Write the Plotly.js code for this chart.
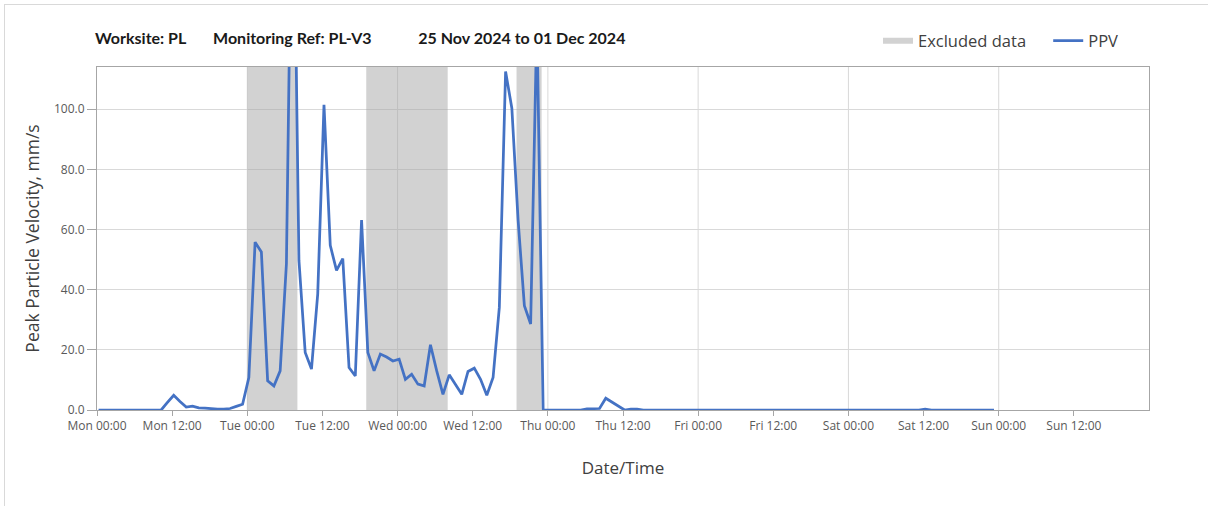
<!DOCTYPE html>
<html>
<head>
<meta charset="utf-8">
<script src="https://cdn.plot.ly/plotly-3.0.1.min.js"></script>
<style>
  html, body { margin: 0; padding: 0; background: #ffffff; overflow: hidden; }
  #frame { position: absolute; left: 4px; top: 4px; width: 1400px; height: 700px;
           border-top: 1px solid #d9d9d9; border-left: 1px solid #d9d9d9; pointer-events: none; z-index: 5; }
  #chart { position: absolute; left: 0; top: 0; width: 1208px; height: 506px; }
</style>
</head>
<body>
<div id="chart"></div>
<div id="frame"></div>
<script>
// ---- data (hourly PPV readings, mm/s) ----
const seriesStart = '2024-11-25T00:15:00';   // first reading
const stepHours = 1;
const ppvMon = [0,0,0,0,0,0,0,0,0,0,0,2.5, 4.9,2.8,1.0,1.3,0.7,0.6,0.4,0.3,0.3,0.5,1.2,1.9];
const ppvTue = [10.8,55.8,52.5,9.7,8.0,13.0,48.6,200,49.7,19.1,13.6,38.6,
                101.4,54.7,46.4,50.3,14.1,11.3,63.1,19.1,13.0,18.6,17.6,16.3];
const ppvWed = [16.9,10.2,11.9,8.6,8.0,21.7,13.0,5.2,11.7,8.5,5.2,12.8,
                13.9,10.2,4.9,10.8,34.1,112.5,100.3,63.0,34.7,28.6,130,0];
const ppvThu = [0,0,0,0,0,0,0.4,0.4,0.5,3.9,2.6,1.3, 0,0.3,0.3,0,0,0,0,0,0,0,0,0];
const ppvFri = [0,0,0,0,0,0,0,0,0,0,0,0, 0,0,0,0,0,0,0,0,0,0,0,0];
const ppvSat = [0,0,0,0,0,0,0,0,0,0,0,0, 0.3,0,0,0,0,0,0,0,0,0,0,0];

// excluded-data periods
const excludedStart = ['2024-11-26T00:00:00','2024-11-26T19:00:00','2024-11-27T19:00:00'];
const excludedEnd   = ['2024-11-26T08:00:00','2024-11-27T08:00:00','2024-11-27T23:00:00'];

// axes
const xRange = ['2024-11-25T00:00:00','2024-12-02T00:00:00'];
const yMax = 114;
const yTicks = [0,20,40,60,80,100];
const tickTimes = ['2024-11-25T00:00:00','2024-11-25T12:00:00','2024-11-26T00:00:00','2024-11-26T12:00:00',
                   '2024-11-27T00:00:00','2024-11-27T12:00:00','2024-11-28T00:00:00','2024-11-28T12:00:00',
                   '2024-11-29T00:00:00','2024-11-29T12:00:00','2024-11-30T00:00:00','2024-11-30T12:00:00',
                   '2024-12-01T00:00:00','2024-12-01T12:00:00'];
const tickLabels = ['Mon 00:00','Mon 12:00','Tue 00:00','Tue 12:00','Wed 00:00','Wed 12:00','Thu 00:00',
                    'Thu 12:00','Fri 00:00','Fri 12:00','Sat 00:00','Sat 12:00','Sun 00:00','Sun 12:00'];
const dayGridTimes = ['2024-11-26T00:00:00','2024-11-27T00:00:00','2024-11-28T00:00:00',
                      '2024-11-29T00:00:00','2024-11-30T00:00:00','2024-12-01T00:00:00'];

// ---- build traces ----
const ppv = [].concat(ppvMon, ppvTue, ppvWed, ppvThu, ppvFri, ppvSat);
function fmt(d){
  const p = n => String(n).padStart(2,'0');
  return d.getFullYear()+'-'+p(d.getMonth()+1)+'-'+p(d.getDate())+' '+p(d.getHours())+':'+p(d.getMinutes())+':00';
}
const t0 = new Date(seriesStart);
const times = ppv.map((_, i) => fmt(new Date(t0.getTime() + i*stepHours*3600000)));

const exX = [], exY = [];
excludedStart.forEach((s, i) => {
  const e = excludedEnd[i];
  exX.push(s, s, e, e, s, null);
  exY.push(0, yMax, yMax, 0, 0, null);
});

const NB = '\u00a0';
const traces = [
  { type:'scatter', mode:'none', name:'Excluded data' + NB.repeat(4), x: exX, y: exY,
    fill:'toself', fillcolor:'rgba(166,166,166,0.5)', hoverinfo:'skip' },
  { type:'scatter', mode:'lines', name:'PPV', x: times, y: ppv,
    line:{ color:'#4472C4', width:2.75 } }
];

const shapes = dayGridTimes.map(t => ({
  type:'line', xref:'x', yref:'paper', x0:t, x1:t, y0:0, y1:1,
  line:{ color:'#d9d9d9', width:1 }, layer:'between'
}));

const layout = {
  width:1208, height:506,
  margin:{ l:97, r:59, t:67, b:96, pad:0, autoexpand:false },
  paper_bgcolor:'#ffffff', plot_bgcolor:'#ffffff',
  font:{ family:'"Open Sans", sans-serif', color:'#595959' },
  showlegend:true,
  title:{
    text:'Worksite: PL' + NB.repeat(6) + ' Monitoring Ref: PL-V3' + NB.repeat(11) + ' 25 Nov 2024 to 01 Dec 2024',
    font:{ family:'Lato, sans-serif', size:16, color:'#1a1a1a', weight:'bold' },
    xref:'container', yref:'container', x:95/1208, xanchor:'left', y:1-38/506, yanchor:'middle'
  },
  legend:{
    orientation:'h', x:(878-97)/1052, xanchor:'left', y:(410-41)/343, yanchor:'middle',
    font:{ size:16.5, color:'#404040' }, bgcolor:'rgba(0,0,0,0)', borderwidth:0,
    traceorder:'normal'
  },
  xaxis:{
    type:'date', range:xRange, tickmode:'array', tickvals:tickTimes, ticktext:tickLabels,
    showgrid:false, zeroline:false, showline:true, linecolor:'#a6a6a6', linewidth:1, mirror:true,
    ticks:'outside', ticklen:5, tickcolor:'#a6a6a6', tickangle:0,
    tickfont:{ size:12, color:'#595959' },
    title:{ text:'Date/Time', font:{ size:17, color:'#404040' }, standoff:28 }
  },
  yaxis:{
    range:[0, yMax], tickmode:'array', tickvals:yTicks, tickformat:'.1f',
    showgrid:true, gridcolor:'#d9d9d9', gridwidth:1, zeroline:false,
    showline:true, linecolor:'#a6a6a6', linewidth:1, mirror:true,
    ticks:'outside', ticklen:9, tickcolor:'#a6a6a6',
    tickfont:{ size:12, color:'#595959' },
    title:{ text:'Peak Particle Velocity, mm/s', font:{ size:17.5, color:'#404040' }, standoff:9 }
  },
  shapes: shapes
};

Plotly.newPlot('chart', traces, layout, { displayModeBar:false, staticPlot:true });
</script>
</body>
</html>
